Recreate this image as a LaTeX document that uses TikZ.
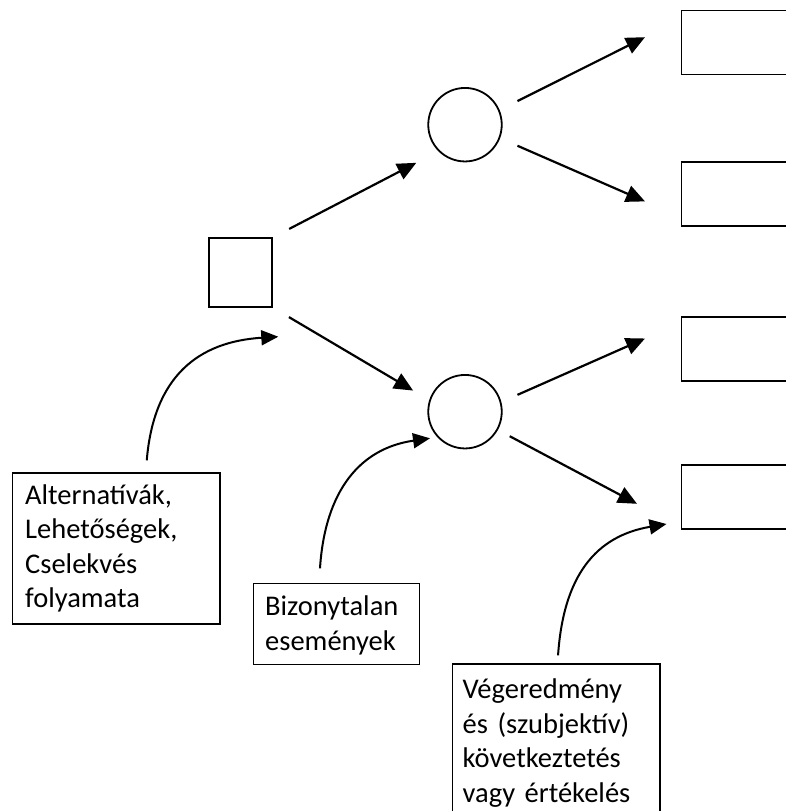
\documentclass[tikz,border=0pt]{standalone}
\usepackage{fontspec}
\setmainfont{Carlito}
\usetikzlibrary{arrows.meta}
\begin{document}
\begin{tikzpicture}[x=1pt,y=-1pt,
  decision/.style={draw, line width=1.8pt, minimum width=63pt, minimum height=68.4pt, inner sep=0pt},
  chance/.style={draw, circle, line width=1.8pt, minimum size=73.5pt, inner sep=0pt},
  outcome/.style={draw, line width=1.7pt, anchor=north west, minimum width=200pt, minimum height=64pt, inner sep=0pt},
  labelbox/.style={draw, line width=1.5pt, anchor=north west, inner sep=0pt},
  labeltext/.style={anchor=base west, align=left, text width=200pt, inner sep=0pt,
    font=\fontsize{28.5pt}{34.5pt}\selectfont},
  flow/.style={line width=2.2pt, -{Triangle[length=19pt,width=17pt]}},
  pointer/.style={line width=2pt, -{Triangle[length=17pt,width=15pt]}}
]
\useasboundingbox (0,0) rectangle (786,811);
\clip (0,0) rectangle (786,811);
\fill[white] (0,0) rectangle (786,811);

% decision node and chance nodes
\node[decision] (sq) at (240.5,272.5) {};
\node[chance] (c1) at (465,124.7) {};
\node[chance] (c2) at (465,411.7) {};

% outcome boxes (running off the right edge)
\node[outcome] (o1) at (680.7,9.5) {};
\node[outcome] (o2) at (680.7,161.2) {};
\node[outcome] (o3) at (680.7,316.2) {};
\node[outcome] (o4) at (680.7,464.4) {};

% explanatory label boxes
\node[labelbox, minimum width=207.6pt, minimum height=151pt] (boxA) at (11.7,472.3) {};
\node[labeltext] (txtA) at (25,504) {Alternatívák,\\Lehetőségek,\\Cselekvés\\folyamata};
\node[labelbox, minimum width=166pt, minimum height=81pt] (boxB) at (252.7,582.7) {};
\node[labeltext] (txtB) at (265,615.7) {Bizonytalan\\események};
\node[labelbox, minimum width=207.3pt, minimum height=200pt] (boxC) at (451.7,663.3) {};
\node[labeltext] (txtC) at (462.5,698.5) {Végeredmény\\és (szubjektív)\\következtetés\\vagy értékelés};

% arrow tips that stop short of the outcome boxes
\coordinate (t1) at (645,37.2);
\coordinate (t2) at (645,201.4);
\coordinate (t3) at (645,338.5);
\coordinate (t4) at (637,503.8);
\coordinate (tA) at (278.3,336.7);
\coordinate (tB) at (430,438.3);
\coordinate (tC) at (666.5,524);

% tree branches
\draw[flow, shorten <=18.3pt, shorten >=24.9pt] (sq.north east) -- (c1.225);
\draw[flow, shorten <=18.6pt, shorten >=18.7pt] (sq.south east) -- (c2.162);
\draw[flow, shorten <=19.9pt] (c1.23) -- (t1);
\draw[flow, shorten <=18.9pt] (c1.339) -- (t2);
\draw[flow, shorten <=17.6pt] (c2.15) -- (t3);
\draw[flow, shorten <=13.3pt] (c2.331) -- (t4);

% curved pointers from the labels
\draw[pointer, shorten <=12pt] ([xshift=29.5pt]boxA.north) .. controls +(8,-96) and +(-80,5) .. (tA);
\draw[pointer, shorten <=14.4pt] ([xshift=-17.4pt]boxB.north) .. controls +(6,-92) and +(-70,10) .. (tB);
\draw[pointer, shorten <=8pt] ([xshift=1.4pt]boxC.north) .. controls +(6,-88) and +(-70.5,12) .. (tC);
\end{tikzpicture}
\end{document}
